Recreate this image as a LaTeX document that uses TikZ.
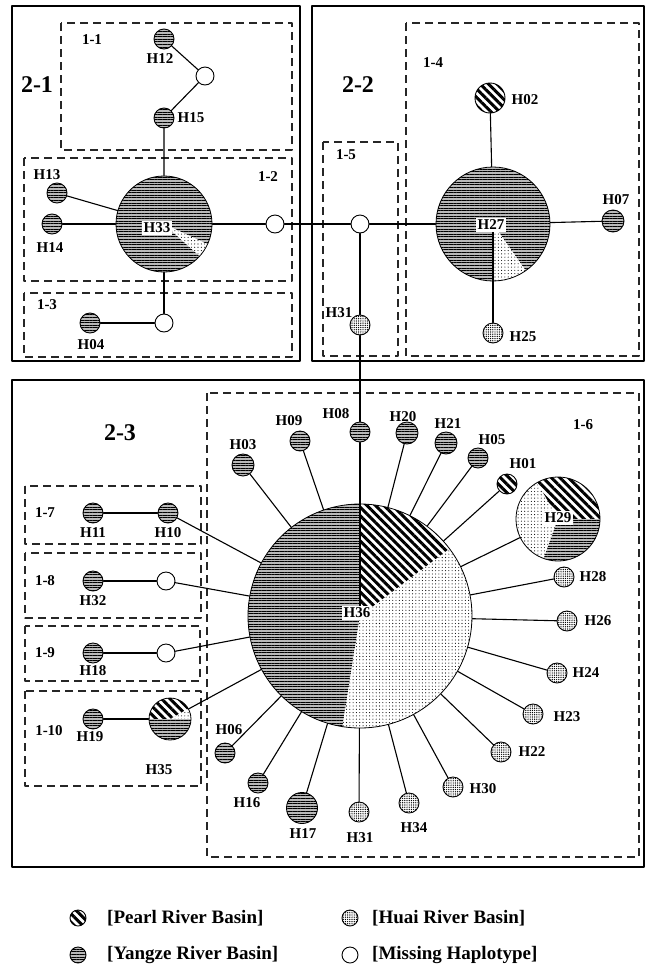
\documentclass[tikz,border=0pt]{standalone}
\usepackage{fontspec}
\setmainfont{Liberation Serif}
\usetikzlibrary{patterns.meta}

\begin{document}
\begin{tikzpicture}[
  x=1pt, y=1pt,
  line cap=round,
  line join=round,
  every node/.style={font=\bfseries\fontsize{15}{15}\selectfont, inner sep=0pt},
  group/.style={line width=2.4pt},
  sub/.style={line width=1.3pt, black!85, dash pattern=on 8pt off 5pt, line cap=butt},
  link/.style={line width=1.1pt},
  yzfill/.style={preaction={fill=gray!55}, pattern={Lines[angle=0,distance=2.6pt,line width=0.9pt]}},
  hufill/.style={preaction={fill=white}, pattern={Dots[distance=3.3pt,radius=0.55pt]}},
  prfill/.style={preaction={fill=white}, pattern={Lines[angle=-45,distance=6pt,line width=3pt]}},
  hap/.style={circle, draw, line width=0.9pt, minimum size=20pt},
  yz/.style={hap, yzfill},
  hu/.style={hap, preaction={fill=white}, pattern={Dots[distance=2.2pt,radius=0.7pt]}},
  pr/.style={hap, prfill},
  miss/.style={hap, fill=white, minimum size=18pt},
  bigc/.style={circle, draw, line width=0.8pt},
  tag/.style={fill=white, inner sep=2pt},
  grp/.style={font=\bfseries\fontsize{24}{24}\selectfont},
  key/.style={font=\bfseries\fontsize{19}{19}\selectfont, anchor=west}
]
  \useasboundingbox (0,0) rectangle (646,-970);

  % Outer groups (solid) and sub-groups (dashed)
  \draw[group] (12,-6) rectangle (300,-361);
  \draw[group] (312,-6) rectangle (644,-361);
  \draw[group] (12,-380) rectangle (644,-867);

  \draw[sub] (61,-23) rectangle (292,-150);
  \draw[sub] (24,-158) rectangle (292,-281);
  \draw[sub] (24,-293) rectangle (292,-357);
  \draw[sub] (406,-23) rectangle (639,-356);
  \draw[sub] (323,-142) rectangle (398,-356);
  \draw[sub] (207,-393) rectangle (639,-857);
  \draw[sub] (25,-486) rectangle (201,-544);
  \draw[sub] (25,-553) rectangle (201,-618);
  \draw[sub] (25,-626) rectangle (200,-681);
  \draw[sub] (25,-691) rectangle (201,-786);

  % Centres of the pie charts
  \coordinate (c33) at (164,-224);
  \coordinate (c27) at (493,-224);
  \coordinate (c36) at (360,-616);
  \coordinate (c29) at (558,-519);
  \coordinate (c35) at (170,-719);

  % Pie sectors
  \fill[yzfill] (c33) -- ++(-25:48) arc[start angle=-25, end angle=318, radius=48] -- cycle;
  \fill[hufill] (c33) -- ++(-42:48) arc[start angle=-42, end angle=-25, radius=48] -- cycle;

  \fill[yzfill] (c27) -- ++(-55:57) arc[start angle=-55, end angle=270, radius=57] -- cycle;
  \fill[hufill] (c27) -- ++(-90:57) arc[start angle=-90, end angle=-55, radius=57] -- cycle;

  \fill[yzfill] (c36) -- ++(90:112) arc[start angle=90, end angle=261, radius=112] -- cycle;
  \fill[hufill] (c36) -- ++(-99:112) arc[start angle=-99, end angle=37, radius=112] -- cycle;
  \fill[prfill] (c36) -- ++(37:112) arc[start angle=37, end angle=90, radius=112] -- cycle;

  \fill[prfill] (c29) -- ++(0:42) arc[start angle=0, end angle=120, radius=42] -- cycle;
  \fill[hufill] (c29) -- ++(120:42) arc[start angle=120, end angle=250, radius=42] -- cycle;
  \fill[yzfill] (c29) -- ++(250:42) arc[start angle=250, end angle=360, radius=42] -- cycle;

  \fill[hufill] (c35) -- ++(0:21) arc[start angle=0, end angle=30, radius=21] -- cycle;
  \fill[prfill] (c35) -- ++(30:21) arc[start angle=30, end angle=180, radius=21] -- cycle;
  \fill[yzfill] (c35) -- ++(180:21) arc[start angle=180, end angle=360, radius=21] -- cycle;

  \node[bigc, minimum size=96pt] (H33) at (c33) {};
  \node[bigc, minimum size=114pt] (H27) at (c27) {};
  \node[bigc, minimum size=224pt] (H36) at (c36) {};
  \node[bigc, minimum size=84pt] (H29) at (c29) {};
  \node[bigc, minimum size=42pt] (H35) at (c35) {};

  % Haplotypes of group 2-1
  \node[yz] (H12) at (164,-39) {};
  \node[miss] (m1) at (205,-76) {};
  \node[yz] (H15) at (164,-118) {};
  \node[yz] (H13) at (57,-193) {};
  \node[yz] (H14) at (52,-224) {};
  \node[miss] (m2) at (275,-224) {};
  \node[miss] (m3) at (164,-323) {};
  \node[yz] (H04) at (90,-323) {};

  % Haplotypes of group 2-2
  \node[miss] (m4) at (360,-224) {};
  \node[hu] (H31a) at (360,-325) {};
  \node[pr, minimum size=30pt] (H02) at (490,-98) {};
  \node[yz, minimum size=22pt] (H07) at (613,-221) {};
  \node[hu] (H25) at (493,-333) {};

  % Haplotypes of group 2-3
  \node[yz, minimum size=22pt] (H03) at (243,-465) {};
  \node[yz] (H09) at (300,-441) {};
  \node[yz] (H08) at (360,-432) {};
  \node[yz, minimum size=22pt] (H20) at (407,-433) {};
  \node[yz, minimum size=22pt] (H21) at (446,-443) {};
  \node[yz] (H05) at (478,-458) {};
  \node[pr] (H01) at (507,-484) {};
  \node[hu] (H28) at (564,-577) {};
  \node[hu] (H26) at (567,-621) {};
  \node[hu] (H24) at (557,-673) {};
  \node[hu] (H23) at (533,-714) {};
  \node[hu] (H22) at (501,-752) {};
  \node[hu] (H30) at (453,-787) {};
  \node[hu] (H34) at (409,-803) {};
  \node[hu] (H31b) at (359,-812) {};
  \node[yz, minimum size=31pt] (H17) at (302,-808) {};
  \node[yz] (H16) at (258,-783) {};
  \node[yz] (H06) at (225,-753) {};
  \node[yz] (H10) at (168,-513) {};
  \node[yz] (H11) at (93,-513) {};
  \node[miss] (m8) at (166,-581) {};
  \node[yz] (H32) at (93,-581) {};
  \node[miss] (m9) at (166,-653) {};
  \node[yz] (H18) at (93,-653) {};
  \node[yz] (H19) at (93,-719) {};

  % Links
  \draw[link] (H12) -- (m1) -- (H15) -- (H33);
  \draw[link] (H13) -- (H33);
  \draw[link] (H14) -- (H33);
  \draw[link] (H33) -- (m2) -- (m4) -- (H27);
  \draw[link] (H33) -- (m3) -- (H04);
  \draw[link] (H27) -- (H02);
  \draw[link] (H27) -- (H07);
  \draw[link] (H25) -- (c27);
  \draw[link] (m4) -- (H31a) -- (H08);
  \draw[link] (H08) -- (c36);
  \foreach \h in {H03,H09,H20,H21,H05,H01,H29,H28,H26,H24,H23,H22,H30,H34,H31b,H17,H16,H06,H35,m9,m8,H10}
    \draw[link] (\h) -- (H36);
  \draw[link] (H10) -- (H11);
  \draw[link] (m8) -- (H32);
  \draw[link] (m9) -- (H18);
  \draw[link] (H35) -- (H19);

  % Group labels
  \node[grp] (g21) at (37,-85) {2-1};
  \node[grp] (g22) at (358,-85) {2-2};
  \node[grp] (g23) at (120,-433) {2-3};
  \node (s11) at (92,-40) {1-1};
  \node (s12) at (268,-177) {1-2};
  \node (s13) at (47,-305) {1-3};
  \node (s14) at (433,-63) {1-4};
  \node (s15) at (346,-155) {1-5};
  \node (s16) at (583,-425) {1-6};
  \node (s17) at (45,-513) {1-7};
  \node (s18) at (45,-581) {1-8};
  \node (s19) at (45,-653) {1-9};
  \node (s110) at (49,-731) {1-10};

  % Haplotype labels
  \node[tag] (l33) at (157,-228) {H33};
  \node[tag] (l27) at (491,-225) {H27};
  \node[tag] (l36) at (357,-613) {H36};
  \node[tag] (l29) at (558,-518) {H29};
  \node (l12) at (160,-59) {H12};
  \node (l15) at (191,-118) {H15};
  \node (l13) at (47,-175) {H13};
  \node (l14) at (50,-248) {H14};
  \node (l04) at (91,-345) {H04};
  \node (l02) at (525,-100) {H02};
  \node (l07) at (616,-200) {H07};
  \node (l25) at (523,-337) {H25};
  \node (l31a) at (339,-313) {H31};
  \node (l03) at (243,-445) {H03};
  \node (l09) at (289,-421) {H09};
  \node (l08) at (336,-414) {H08};
  \node (l20) at (403,-417) {H20};
  \node (l21) at (448,-424) {H21};
  \node (l05) at (492,-440) {H05};
  \node (l01) at (523,-464) {H01};
  \node (l28) at (593,-577) {H28};
  \node (l26) at (598,-621) {H26};
  \node (l24) at (586,-673) {H24};
  \node (l23) at (567,-717) {H23};
  \node (l22) at (532,-752) {H22};
  \node (l30) at (483,-789) {H30};
  \node (l34) at (414,-828) {H34};
  \node (l31b) at (360,-838) {H31};
  \node (l17) at (303,-834) {H17};
  \node (l16) at (247,-803) {H16};
  \node (l06) at (229,-730) {H06};
  \node (l35) at (159,-770) {H35};
  \node (l11) at (93,-533) {H11};
  \node (l10) at (168,-533) {H10};
  \node (l32) at (93,-601) {H32};
  \node (l18) at (93,-671) {H18};
  \node (l19) at (90,-737) {H19};

  % Legend
  \node[pr, minimum size=16pt] (kP) at (78,-918) {};
  \node[key] (tP) at (107,-918) {[Pearl River Basin]};
  \node[hu, minimum size=16pt] (kH) at (350,-918) {};
  \node[key] (tH) at (372,-918) {[Huai River Basin]};
  \node[yz, minimum size=16pt] (kY) at (78,-955) {};
  \node[key] (tY) at (107,-955) {[Yangze River Basin]};
  \node[miss, minimum size=16pt] (kM) at (350,-955) {};
  \node[key] (tM) at (372,-955) {[Missing Haplotype]};
\end{tikzpicture}
\end{document}
